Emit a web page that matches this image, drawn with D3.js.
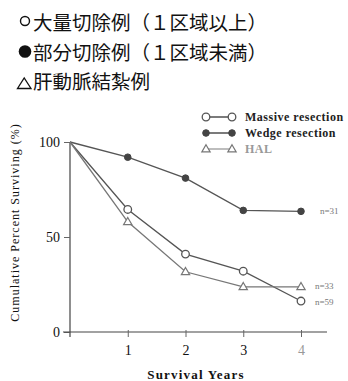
<!DOCTYPE html>
<html>
<head>
<meta charset="utf-8">
<script src="https://cdn.jsdelivr.net/npm/d3@7"></script>
<style>
  body { margin: 0; background: #fff; }
  svg { display: block; }
</style>
</head>
<body>
<script>
// header lines
var headerLines = ['大量切除例（１区域以上）', '部分切除例（１区域未満）', '肝動脈結紮例']

// survival data
var years = [0, 1, 2, 3, 4]
var massive = [100, 64.5, 41, 32, 16.3]
var wedge = [100, 92, 81, 64, 63.5]
var hal = [100, 58, 31.7, 23.8, 23.8]
var nLabels = ['n=59', 'n=31', 'n=33']
var seriesNames = ['Massive resection', 'Wedge resection', 'HAL']
var yTicks = [0, 50, 100]
var xTicks = [1, 2, 3, 4]

var W = 348, H = 381
var svg = d3.select('body').append('svg').attr('width', W).attr('height', H)

// header
var hdrBase = [30, 59.5, 89]
svg.selectAll('text.hdr')
  .data(headerLines)
  .enter()
  .append('text')
  .attr('class', 'hdr')
  .attr('x', 33)
  .attr('y', function (d, i) { return hdrBase[i] })
  .attr('font-family', '"Noto Sans CJK JP", sans-serif')
  .attr('font-size', 19.5)
  .attr('fill', '#111')
  .text(function (d) { return d })

// header symbols
svg.append('circle').attr('cx', 25).attr('cy', 21).attr('r', 4.5)
  .attr('fill', 'none').attr('stroke', '#111').attr('stroke-width', 1.4)
svg.append('circle').attr('cx', 25).attr('cy', 51.5).attr('r', 6.3).attr('fill', '#111')
svg.append('path').attr('d', 'M17.5,88.5L31,88.5L24.2,78Z')
  .attr('fill', 'none').attr('stroke', '#111').attr('stroke-width', 1.3)

var xScale = d3.scaleLinear().domain([0, 4]).range([70, 301])
var yScale = d3.scaleLinear().domain([0, 100]).range([332, 142])

var serif = '"Liberation Serif", "Times New Roman", serif'

// axes
var yAxis = d3.axisLeft(yScale).tickValues(yTicks).tickSize(6).tickPadding(4)
var gy = svg.append('g').attr('transform', 'translate(' + xScale(0) + ',0)').call(yAxis)
gy.select('.domain').attr('d', 'M0,' + yScale(100) + 'V' + (yScale(0) + 5)).attr('stroke', '#444').attr('stroke-width', 1.2)
gy.selectAll('.tick line').attr('stroke', '#666')
gy.selectAll('.tick text').attr('font-family', serif).attr('font-size', 14).attr('fill', '#111')

var xAxis = d3.axisBottom(xScale).tickValues(xTicks).tickFormat(d3.format('d')).tickSize(5).tickPadding(8)
var gx = svg.append('g').attr('transform', 'translate(0,' + yScale(0) + ')').call(xAxis)
gx.select('.domain').attr('d', 'M' + (xScale(0) - 7) + ',0H' + xScale(4.45)).attr('stroke', '#444').attr('stroke-width', 1.2)
gx.selectAll('.tick line').attr('stroke', '#666').attr('y1', -2)
gx.selectAll('.tick text').attr('font-family', serif).attr('font-size', 14)
  .attr('fill', function (d) { return d === 4 ? '#999' : '#111' })

// axis titles
svg.append('text')
  .attr('transform', 'translate(19,' + ((yScale(0) + 113) / 2) + ') rotate(-90)')
  .attr('text-anchor', 'middle')
  .attr('font-family', serif)
  .attr('font-size', 12)
  .attr('letter-spacing', 1)
  .attr('fill', '#111')
  .text('Cumulative Percent Surviving (%)')

svg.append('text')
  .attr('x', 196)
  .attr('y', 379)
  .attr('text-anchor', 'middle')
  .attr('font-family', serif)
  .attr('font-weight', 'bold')
  .attr('font-size', 13)
  .attr('letter-spacing', 1.2)
  .attr('fill', '#111')
  .text('Survival Years')

// lines
var line = d3.line()
  .x(function (d, i) { return xScale(years[i]) })
  .y(function (d) { return yScale(d) })

var series = [
  { vals: massive, kind: 'open', color: '#555' },
  { vals: wedge, kind: 'filled', color: '#555' },
  { vals: hal, kind: 'tri', color: '#777' }
]

series.forEach(function (s) {
  svg.append('path')
    .datum(s.vals)
    .attr('d', line)
    .attr('fill', 'none')
    .attr('stroke', s.color)
    .attr('stroke-width', 1.3)
})

var triSym = d3.symbol().type(d3.symbolTriangle).size(30)

function drawMarker(g, kind, x, y) {
  if (kind === 'open') {
    g.append('circle').attr('cx', x).attr('cy', y).attr('r', 3.8)
      .attr('fill', '#fff').attr('stroke', '#555').attr('stroke-width', 1.3)
  } else if (kind === 'filled') {
    g.append('circle').attr('cx', x).attr('cy', y).attr('r', 3.3)
      .attr('fill', '#444').attr('stroke', '#444')
  } else {
    g.append('path').attr('d', triSym).attr('transform', 'translate(' + x + ',' + (y + 0.5) + ')')
      .attr('fill', '#fff').attr('stroke', '#777').attr('stroke-width', 1.2)
  }
}

var marks = svg.append('g')
series.forEach(function (s) {
  s.vals.forEach(function (v, i) {
    if (i === 0) return
    drawMarker(marks, s.kind, xScale(years[i]), yScale(v))
  })
})

// n labels at the end of each curve
var nPos = [
  { t: nLabels[0], y: yScale(massive[4]) + 1 },
  { t: nLabels[1], y: yScale(wedge[4]) },
  { t: nLabels[2], y: yScale(hal[4]) - 1 }
]
svg.selectAll('text.n')
  .data(nPos)
  .enter()
  .append('text')
  .attr('class', 'n')
  .attr('x', function (d, i) { return i === 1 ? 320 : 315 })
  .attr('y', function (d) { return d.y + 3 })
  .attr('font-family', serif)
  .attr('font-size', 9)
  .attr('fill', '#777')
  .text(function (d) { return d.t })

// legend
var legY = [117, 133, 149]
var kinds = ['open', 'filled', 'tri']
var legColors = ['#222', '#222', '#999']
seriesNames.forEach(function (name, i) {
  var g = svg.append('g')
  g.append('line').attr('x1', 206).attr('x2', 232).attr('y1', legY[i]).attr('y2', legY[i])
    .attr('stroke', i === 2 ? '#999' : '#333').attr('stroke-width', 1.3)
  drawMarker(g, kinds[i], 206, legY[i])
  drawMarker(g, kinds[i], 232, legY[i])
  g.append('text')
    .attr('x', 245)
    .attr('y', legY[i] + 4)
    .attr('font-family', serif)
    .attr('font-weight', 'bold')
    .attr('font-size', 12)
    .attr('letter-spacing', 0.5)
    .attr('fill', legColors[i])
    .text(name)
})
</script>
</body>
</html>
